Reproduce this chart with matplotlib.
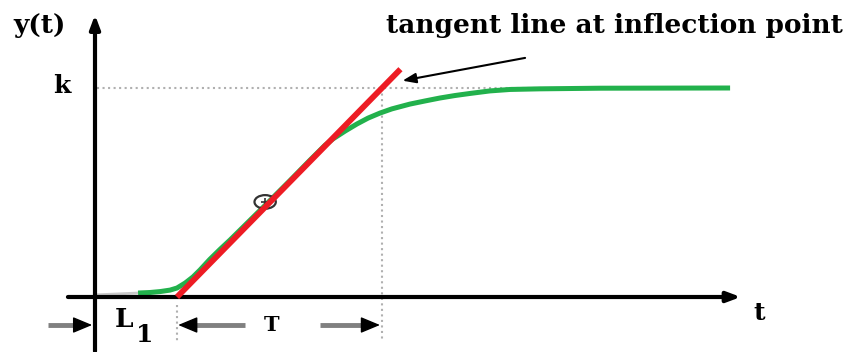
import matplotlib
matplotlib.use('Agg')
import matplotlib.pyplot as plt
from matplotlib.patches import Ellipse

# Step response (t in time units, y normalised to k = 1).
t_resp = [0.0, 1.05, 1.34, 1.59, 1.83, 2.0, 2.2, 2.39, 2.56, 2.8, 3.05,
          3.29, 3.78, 4.27, 4.76, 5.24, 5.61, 5.8, 6.1, 6.39, 6.66, 6.95,
          7.24, 7.68, 8.05, 8.41, 8.78, 9.15, 9.63, 10.12, 10.85, 12.32,
          15.49]
y_resp = [0.01, 0.019, 0.0215, 0.026, 0.033, 0.043, 0.067, 0.096, 0.129,
          0.18, 0.228, 0.272, 0.367, 0.462, 0.558, 0.654, 0.726, 0.756,
          0.794, 0.828, 0.856, 0.88, 0.9, 0.923, 0.938, 0.952, 0.964,
          0.974, 0.986, 0.993, 0.996, 0.999, 1.0]

# Tangent line through the inflection point: y = (t - L) / T.
L_delay = 2.0
T_const = 5.0
k_gain = 1.0
t_tangent = [2.0, 7.45]
t_infl = 4.15
y_infl = 0.455

serif = ['DejaVu Serif']

fig = plt.figure(figsize=(8.55, 3.52), dpi=100)
ax = fig.add_axes([0, 0, 1, 1])
ax.set_xlim(-95 / 41, 760 / 41)
ax.set_ylim(-55 / 209, 297 / 209)
ax.axis('off')

# Axes drawn as arrows.
ax.annotate('', xy=(15.75, 0), xytext=(-0.66, 0),
            arrowprops=dict(arrowstyle='-|>,head_length=0.8,head_width=0.3',
                            lw=3, color='black', shrinkA=0, shrinkB=0))
ax.annotate('', xy=(0, 1.35), xytext=(0, -0.26),
            arrowprops=dict(arrowstyle='-|>,head_length=0.8,head_width=0.3',
                            lw=3, color='black', shrinkA=0, shrinkB=0))

# Dotted guide lines.
ax.plot([0.05, 15.0], [k_gain, k_gain], color='#b0b0b0', lw=1.5, ls=':')
t_end = L_delay + T_const
ax.plot([t_end, t_end], [k_gain, -0.21], color='#b0b0b0', lw=1.5, ls=':')
ax.plot([L_delay, L_delay], [-0.04, -0.21], color='#b0b0b0', lw=1.5, ls=':')

# Response curve (faint at the very start) and tangent.
ax.plot(t_resp[:2], y_resp[:2], color='#c8c8c8', lw=2, solid_capstyle='butt')
ax.plot(t_resp[1:], y_resp[1:], color='#22b14c', lw=3.6,
        solid_capstyle='butt', solid_joinstyle='round')
ax.add_patch(Ellipse((t_infl, y_infl), 0.52, 0.065, fill=False,
                     ec='#333333', lw=1.6, zorder=3))
ax.plot([t_infl], [y_infl], marker='+', ms=6, mec='#333333', mew=1.2,
        zorder=3)
y_tangent = [(t - L_delay) / T_const for t in t_tangent]
ax.plot(t_tangent, y_tangent, color='#ed1c24', lw=4.2, solid_capstyle='butt',
        zorder=4)

# Dimension arrows for L and T: grey shaft, black head.
dim_y = -0.134
head = 0.38
dims = [(-1.15, -0.07), (3.66, 2.03), (5.49, 6.95)]
for start, tip in dims:
    base = tip - head if tip > start else tip + head
    ax.plot([start, base], [dim_y, dim_y], color='#808080', lw=3.5,
            solid_capstyle='butt')
    ax.annotate('', xy=(tip, dim_y), xytext=(base, dim_y),
                arrowprops=dict(arrowstyle='-|>,head_length=0.6,head_width=0.25',
                                lw=1, color='black', shrinkA=0, shrinkB=0,
                                mutation_scale=20))

# Labels.
ax.text(-1.35, 1.30, 'y(t)', fontsize=19, fontweight='bold', family=serif,
        ha='center', va='center')
ax.text(-0.8, 1.01, 'k', fontsize=18, fontweight='bold', family=serif,
        ha='center', va='center')
ax.text(16.2, -0.075, 't', fontsize=18, fontweight='bold', family=serif,
        ha='center', va='center')
ax.text(0.72, -0.11, 'L', fontsize=19, fontweight='bold', family=serif,
        ha='center', va='center')
ax.text(1.2, -0.18, '1', fontsize=18, fontweight='bold', family=serif,
        ha='center', va='center')
ax.text(4.3, -0.134, 'T', fontsize=15, fontweight='bold', family=serif,
        ha='center', va='center')

ax.text(12.68, 1.30, 'tangent line at inflection point', fontsize=19,
        fontweight='bold', family=serif, ha='center', va='center')
ax.annotate('', xy=(7.5, 1.035), xytext=(10.49, 1.144),
            arrowprops=dict(arrowstyle='-|>,head_length=0.8,head_width=0.3',
                            lw=1.5, color='black', shrinkA=0, shrinkB=0))

fig.savefig('out.png', dpi=100)
